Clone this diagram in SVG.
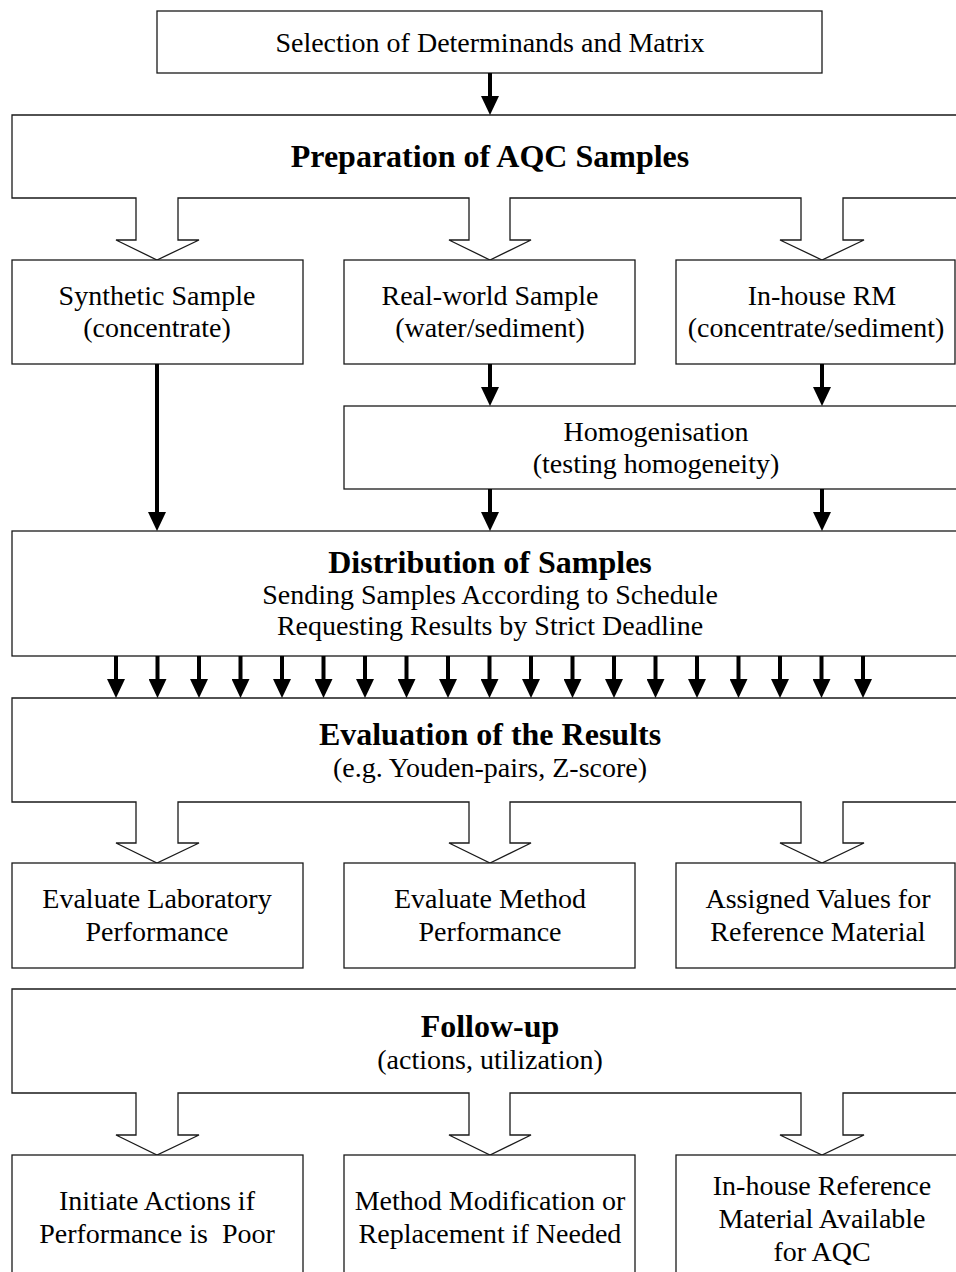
<svg xmlns="http://www.w3.org/2000/svg" width="956" height="1272" viewBox="0 0 956 1272">
<style>
.box{fill:#fff;stroke:#1a1a1a;stroke-width:1.3}
.t{font-family:"Liberation Serif","Times New Roman",serif;font-size:28px;fill:#000;text-anchor:middle}
.b{font-family:"Liberation Serif","Times New Roman",serif;font-size:32px;font-weight:bold;fill:#000;text-anchor:middle}
.conn{stroke:#000;stroke-width:4;fill:none;marker-end:url(#ah)}
</style>
<defs>
<marker id="ah" markerUnits="userSpaceOnUse" markerWidth="19" markerHeight="18" viewBox="0 0 19 18" refX="7" refY="9" orient="auto">
<path d="M0,0 L19,9 L0,18 z" fill="#000"/>
</marker>
</defs>
<rect width="956" height="1272" fill="#fff"/>

<g id="selection">
<rect class="box" x="157" y="11" width="665" height="62"/>
<text class="t" x="490" y="52">Selection of Determinands and Matrix</text>
</g>

<g id="preparation">
<path class="box" d="M970 115 H12 V198 H136 V240 H116 L157 260 L199 240 H178 V198 H469 V240 H449 L490 260 L531 240 H510 V198 H801 V240 H780 L822 260 L864 240 H843 V198 H970"/>
<text class="b" x="490" y="167">Preparation of AQC Samples</text>
</g>

<g id="synthetic">
<rect class="box" x="12" y="260" width="291" height="104"/>
<text class="t" x="157" y="305">Synthetic Sample</text>
<text class="t" x="157" y="337">(concentrate)</text>
</g>

<g id="realworld">
<rect class="box" x="344" y="260" width="291" height="104"/>
<text class="t" x="490" y="305">Real-world Sample</text>
<text class="t" x="490" y="337">(water/sediment)</text>
</g>

<g id="inhouse-rm">
<rect class="box" x="676" y="260" width="279" height="104"/>
<text class="t" x="822" y="305">In-house RM</text>
<text class="t" x="816" y="337">(concentrate/sediment)</text>
</g>

<g id="homogenisation">
<rect class="box" x="344" y="406" width="626" height="83"/>
<text class="t" x="656" y="441">Homogenisation</text>
<text class="t" x="656" y="473">(testing homogeneity)</text>
</g>

<g id="distribution">
<rect class="box" x="12" y="531" width="958" height="125"/>
<text class="b" x="490" y="573">Distribution of Samples</text>
<text class="t" x="490" y="604">Sending Samples According to Schedule</text>
<text class="t" x="490" y="635">Requesting Results by Strict Deadline</text>
</g>

<g id="evaluation">
<path class="box" d="M970 698 H12 V802 H136 V843 H116 L157 863 L199 843 H178 V802 H469 V843 H449 L490 863 L531 843 H510 V802 H801 V843 H780 L822 863 L864 843 H843 V802 H970"/>
<text class="b" x="490" y="745">Evaluation of the Results</text>
<text class="t" x="490" y="777">(e.g. Youden-pairs, Z-score)</text>
</g>

<g id="eval-lab">
<rect class="box" x="12" y="863" width="291" height="105"/>
<text class="t" x="157" y="908">Evaluate Laboratory</text>
<text class="t" x="157" y="941">Performance</text>
</g>

<g id="eval-method">
<rect class="box" x="344" y="863" width="291" height="105"/>
<text class="t" x="490" y="908">Evaluate Method</text>
<text class="t" x="490" y="941">Performance</text>
</g>

<g id="assigned">
<rect class="box" x="676" y="863" width="279" height="105"/>
<text class="t" x="818" y="908">Assigned Values for</text>
<text class="t" x="818" y="941">Reference Material</text>
</g>

<g id="followup">
<path class="box" d="M970 989 H12 V1093 H136 V1135 H116 L157 1155 L199 1135 H178 V1093 H469 V1135 H449 L490 1155 L531 1135 H510 V1093 H801 V1135 H780 L822 1155 L864 1135 H843 V1093 H970"/>
<text class="b" x="490" y="1037">Follow-up</text>
<text class="t" x="490" y="1069">(actions, utilization)</text>
</g>

<g id="initiate">
<rect class="box" x="12" y="1155" width="291" height="130"/>
<text class="t" x="157" y="1210" xml:space="preserve">Initiate Actions if</text>
<text class="t" x="157" y="1243" xml:space="preserve">Performance is  Poor</text>
</g>

<g id="modification">
<rect class="box" x="344" y="1155" width="291" height="130"/>
<text class="t" x="490" y="1210">Method Modification or</text>
<text class="t" x="490" y="1243">Replacement if Needed</text>
</g>

<g id="inhouse-ref">
<rect class="box" x="676" y="1155" width="294" height="130"/>
<text class="t" x="822" y="1195">In-house Reference</text>
<text class="t" x="822" y="1228">Material Available</text>
<text class="t" x="822" y="1261">for AQC</text>
</g>

<g id="connectors">
<line class="conn" x1="490" y1="73" x2="490" y2="103"/>
<line class="conn" x1="157" y1="364" x2="157" y2="519"/>
<line class="conn" x1="490" y1="364" x2="490" y2="394"/>
<line class="conn" x1="822" y1="364" x2="822" y2="394"/>
<line class="conn" x1="490" y1="489" x2="490" y2="519"/>
<line class="conn" x1="822" y1="489" x2="822" y2="519"/>
<line class="conn" x1="116" y1="656" x2="116" y2="686"/>
<line class="conn" x1="157.5" y1="656" x2="157.5" y2="686"/>
<line class="conn" x1="199" y1="656" x2="199" y2="686"/>
<line class="conn" x1="240.5" y1="656" x2="240.5" y2="686"/>
<line class="conn" x1="282" y1="656" x2="282" y2="686"/>
<line class="conn" x1="323.5" y1="656" x2="323.5" y2="686"/>
<line class="conn" x1="365" y1="656" x2="365" y2="686"/>
<line class="conn" x1="406.5" y1="656" x2="406.5" y2="686"/>
<line class="conn" x1="448" y1="656" x2="448" y2="686"/>
<line class="conn" x1="489.5" y1="656" x2="489.5" y2="686"/>
<line class="conn" x1="531" y1="656" x2="531" y2="686"/>
<line class="conn" x1="572.5" y1="656" x2="572.5" y2="686"/>
<line class="conn" x1="614" y1="656" x2="614" y2="686"/>
<line class="conn" x1="655.5" y1="656" x2="655.5" y2="686"/>
<line class="conn" x1="697" y1="656" x2="697" y2="686"/>
<line class="conn" x1="738.5" y1="656" x2="738.5" y2="686"/>
<line class="conn" x1="780" y1="656" x2="780" y2="686"/>
<line class="conn" x1="821.5" y1="656" x2="821.5" y2="686"/>
<line class="conn" x1="863" y1="656" x2="863" y2="686"/>
</g>
</svg>
